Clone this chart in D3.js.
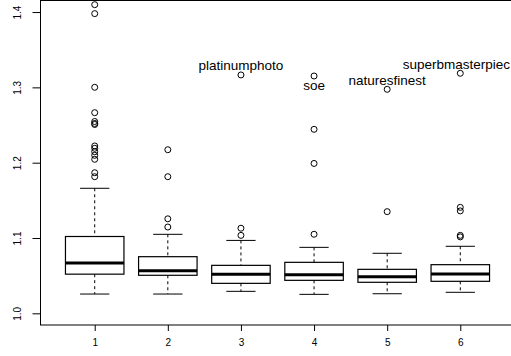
<!DOCTYPE html>
<html>
<head>
<meta charset="utf-8">
<script src="https://cdn.jsdelivr.net/npm/d3@7/dist/d3.min.js"></script>
<style>
  html, body { margin: 0; padding: 0; background: #fff; overflow: hidden; }
  svg { display: block; font-family: "Liberation Sans", Arial, Helvetica, sans-serif; }
</style>
</head>
<body>
<svg id="chart" width="511" height="356"></svg>
<script>
// Five-number summaries per group
const groups = [1, 2, 3, 4, 5, 6];
const lowerWhisker = [1.0256, 1.0256, 1.0292, 1.0252, 1.0260, 1.0279];
const q1 = [1.0520, 1.0505, 1.0398, 1.0438, 1.0412, 1.0425];
const median = [1.0668, 1.0566, 1.0518, 1.0513, 1.0486, 1.0522];
const q3 = [1.1020, 1.0752, 1.0637, 1.0677, 1.0584, 1.0646];
const upperWhisker = [1.1660, 1.1049, 1.0968, 1.0876, 1.0797, 1.0890];

// Outlying points per group
const outliers = [
  [1.4098, 1.3979, 1.3001, 1.2664, 1.2547, 1.2521, 1.2507, 1.2222, 1.2191, 1.2146, 1.2098, 1.2045, 1.1867, 1.1814],
  [1.2172, 1.1814, 1.1255, 1.1146],
  [1.3165, 1.1130, 1.1035],
  [1.3151, 1.2443, 1.1990, 1.1050],
  [1.2974, 1.1350],
  [1.3187, 1.1407, 1.1360, 1.1035, 1.1015]
];

// Named outliers: group, value, label, side
const labelGroup = [3, 4, 5, 6];
const labelValue = [1.3165, 1.3151, 1.2974, 1.3187];
const labelText = ["platinumphoto", "soe", "naturesfinest", "superbmasterpiec"];
const labelSide = ["above", "below", "above", "above"];

const yTicks = [1.0, 1.1, 1.2, 1.3, 1.4];

const W = 511;
const svg = d3.select("#chart");

const x = d3.scaleLinear().domain([0.26, 6.74]).range([40.6, 514.4]);
const y = d3.scaleLinear().domain([0.9845, 1.416]).range([325, 0]);

const boxHalf = 0.4, capHalf = 0.2;

// Plot frame
const [x0, x1] = x.range();
const [yb, yt] = y.range();
svg.append("rect")
  .attr("x", 40.5).attr("y", 0.5)
  .attr("width", x1 - 40.5).attr("height", yb - 0.5)
  .attr("fill", "none").attr("stroke", "#000").attr("stroke-width", 1);

const g = svg.append("g");

groups.forEach((grp, i) => {
  const cx = x(grp);
  // dashed whiskers
  g.append("line")
    .attr("x1", cx).attr("x2", cx)
    .attr("y1", y(upperWhisker[i])).attr("y2", y(q3[i]))
    .attr("stroke", "#000").attr("stroke-dasharray", "3,3");
  g.append("line")
    .attr("x1", cx).attr("x2", cx)
    .attr("y1", y(q1[i])).attr("y2", y(lowerWhisker[i]))
    .attr("stroke", "#000").attr("stroke-dasharray", "3,3");
  // whisker caps
  [upperWhisker[i], lowerWhisker[i]].forEach(v => {
    g.append("line")
      .attr("x1", x(grp - capHalf)).attr("x2", x(grp + capHalf))
      .attr("y1", y(v)).attr("y2", y(v))
      .attr("stroke", "#000");
  });
  // box
  g.append("rect")
    .attr("x", x(grp - boxHalf)).attr("width", x(grp + boxHalf) - x(grp - boxHalf))
    .attr("y", y(q3[i])).attr("height", y(q1[i]) - y(q3[i]))
    .attr("fill", "none").attr("stroke", "#000").attr("stroke-width", 1.2);
  // median
  g.append("line")
    .attr("x1", x(grp - boxHalf)).attr("x2", x(grp + boxHalf))
    .attr("y1", y(median[i])).attr("y2", y(median[i]))
    .attr("stroke", "#000").attr("stroke-width", 3);
  // outliers
  g.selectAll(null).data(outliers[i]).enter().append("circle")
    .attr("cx", cx).attr("cy", d => y(d)).attr("r", 3)
    .attr("fill", "none").attr("stroke", "#000").attr("stroke-width", 1);
});

// Outlier labels (centred on the point; pushed left if they would run off the edge)
labelText.forEach((t, i) => {
  const side = labelSide[i];
  const txt = svg.append("text")
    .attr("x", x(labelGroup[i]))
    .attr("y", y(labelValue[i]) + (side === "above" ? -9.5 : 9.5))
    .attr("dy", "0.35em")
    .attr("text-anchor", "middle")
    .attr("font-size", 13.5)
    .attr("fill", "#000")
    .text(t);
  const bb = txt.node().getBBox();
  if (bb.x + bb.width > W - 1) {
    txt.attr("text-anchor", "end").attr("x", W - 1);
  }
});

// Y axis
const yAxis = d3.axisLeft(y).tickValues(yTicks).tickSize(8).tickFormat(d3.format(".1f"));
const ya = svg.append("g").attr("transform", "translate(40.5,0)").call(yAxis);
ya.select(".domain").remove();
ya.selectAll(".tick line").attr("stroke", "#000");
ya.selectAll(".tick text")
  .attr("font-size", 10).attr("font-family", null)
  .attr("text-anchor", "middle")
  .attr("x", 0).attr("dy", 0)
  .attr("transform", "translate(-20,0) rotate(-90)")
  .attr("fill", "#000");

// X axis
const xAxis = d3.axisBottom(x).tickValues(groups).tickSize(6).tickFormat(d3.format("d"));
const xa = svg.append("g").attr("transform", `translate(0,${yb})`).call(xAxis);
xa.select(".domain").remove();
xa.selectAll(".tick line").attr("stroke", "#000");
xa.selectAll(".tick text")
  .attr("font-size", 10).attr("font-family", null)
  .attr("y", 14).attr("fill", "#000");
</script>
</body>
</html>
